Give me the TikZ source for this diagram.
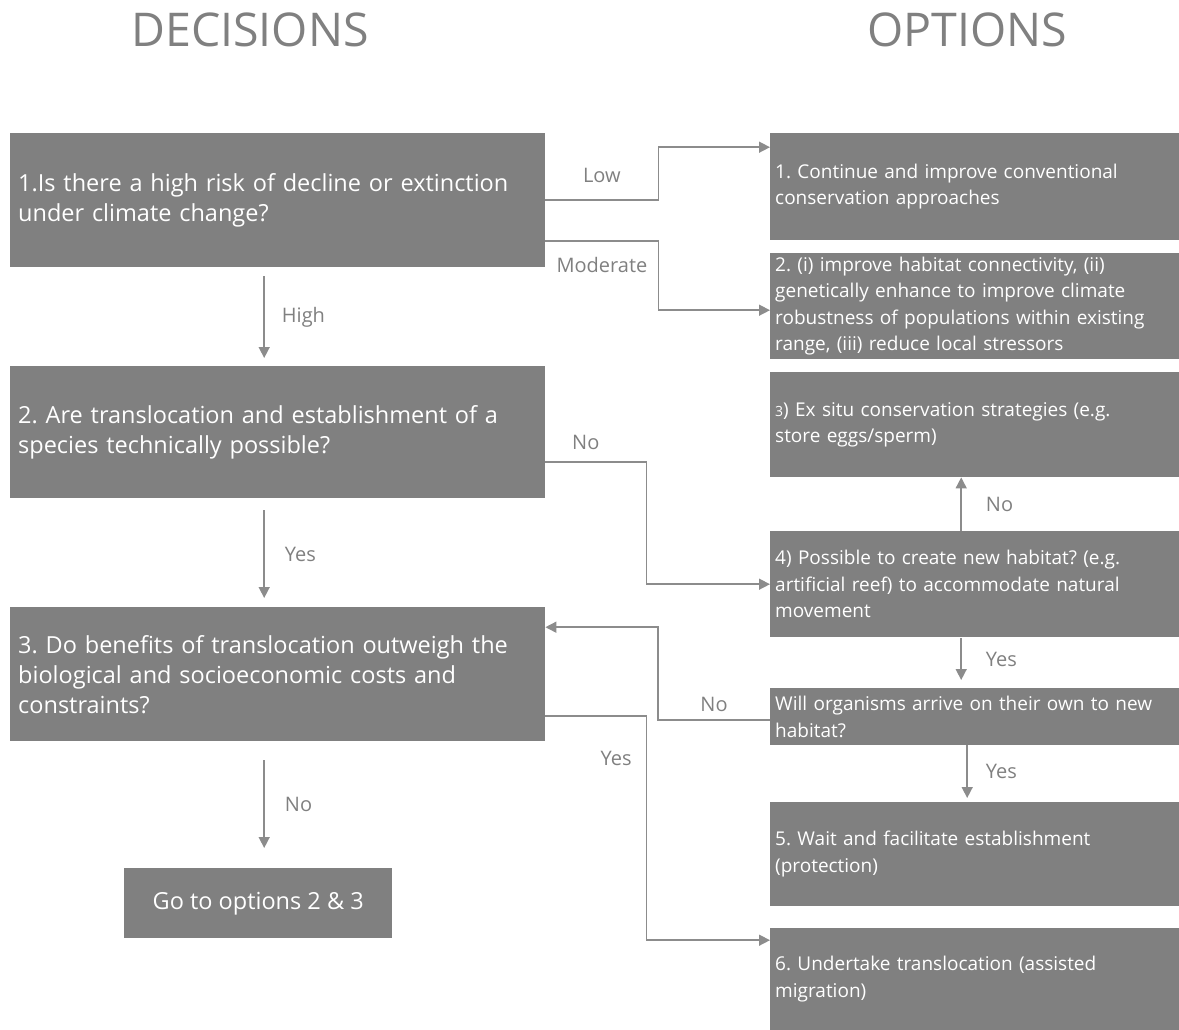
\documentclass[tikz,border=0pt]{standalone}
\usepackage{fontspec}
\setmainfont{Open Sans}
\usepackage{tikz}
\usetikzlibrary{arrows.meta}
\definecolor{boxgray}{RGB}{128,128,128}
\definecolor{linegray}{RGB}{140,140,140}
\definecolor{textgray}{RGB}{128,128,128}
\newcommand\decfont{\fontsize{23.5}{30}\selectfont}
\newcommand\optfont{\fontsize{19}{26.5}\selectfont}
\newcommand\lblfont{\fontsize{20}{22}\selectfont}
\newcommand\ttlfont{\fontsize{46.5}{52}\selectfont}
\frenchspacing
\tikzset{
DBOX/.style={fill=boxgray,draw=none,text=white,font=\decfont,anchor=north west,inner xsep=8pt,inner ysep=0pt,minimum width=535pt,text width=519pt,align=left},
OBOX/.style={fill=boxgray,draw=none,text=white,font=\optfont,anchor=north west,inner xsep=5pt,inner ysep=0pt,minimum width=409pt,text width=399pt,align=left},
GOBOX/.style={fill=boxgray,draw=none,text=white,font=\decfont,anchor=north west,inner sep=0pt,minimum width=268pt,minimum height=70pt},
TITLE/.style={text=textgray,font=\ttlfont},
LINK/.style={draw=linegray,line width=1.5pt,-{Triangle[length=11pt,width=11pt]}},
LABEL/.style={text=textgray,font=\lblfont,inner sep=0pt},
}
\begin{document}
\begin{tikzpicture} %Decision tree
[x=1pt, y=-1pt]
	\useasboundingbox (0,0) rectangle (1179,1030);
	\node[TITLE] (tdec) at (250,30) {DECISIONS};
	\node[TITLE] (topt) at (967,30) {OPTIONS};
	% decisions
	\node[DBOX,minimum height=134pt] (d1) at (10,133) {1.Is there a high risk of decline or extinction\\under climate change?};
	\node[DBOX,minimum height=132pt] (d2) at (10,366) {2. Are translocation and establishment of a\\species technically possible?};
	\node[DBOX,minimum height=134pt] (d3) at (10,607) {3. Do benefits of translocation outweigh the\\biological and socioeconomic costs and\\constraints?};
	\node[GOBOX] (go) at (124,868) {Go to options 2 \& 3};
	% options
	\node[OBOX,minimum height=107pt] (o1) at (770,133) {1. Continue and improve conventional\\conservation approaches};
	\node[OBOX,minimum height=106pt] (o2) at (770,253) {2. (i) improve habitat connectivity, (ii)\\genetically enhance to improve climate\\robustness of populations within existing\\range, (iii) reduce local stressors};
	\node[OBOX,minimum height=105pt] (o3) at (770,372) {{\fontsize{14}{26.5}\selectfont 3}) Ex situ conservation strategies (e.g.\\store eggs/sperm)};
	\node[OBOX,minimum height=106pt] (o4) at (770,531) {4) Possible to create new habitat? (e.g.\\artificial reef) to accommodate natural\\movement};
	\node[OBOX,minimum height=57pt] (will) at (770,688) {Will organisms arrive on their own to new\\habitat?};
	\node[OBOX,minimum height=104pt] (o5) at (770,802) {5. Wait and facilitate establishment\\(protection)};
	\node[OBOX,minimum height=102pt] (o6) at (770,928) {6. Undertake translocation (assisted\\migration)};
	% connectors
	\path[LINK] (d1.east) -- node[LABEL,above=17pt]{Low} ++(113,0) |- ([yshift=39.5pt]o1.west);
	\path[LINK] ([yshift=-41pt]d1.east) -- node[LABEL,below=15pt]{Moderate} ++(113,0) |- ([yshift=-4pt]o2.west);
	\path[LINK] ([xshift=-13.5pt,yshift=-9pt]d1.south) -- node[LABEL,right=17pt]{High} ([xshift=-13.5pt,yshift=8pt]d2.north);
	\path[LINK] ([yshift=-30pt]d2.east) -- node[LABEL,pos=0.4,above=12pt]{No} ++(101,0) |- (o4.west);
	\path[LINK] ([xshift=-13.5pt,yshift=-12pt]d2.south) -- node[LABEL,right=20pt]{Yes} ([xshift=-13.5pt,yshift=9pt]d3.north);
	\path[LINK] ([xshift=-13.5pt,yshift=-19pt]d3.south) -- node[LABEL,right=20pt]{No} ([xshift=6pt,yshift=20pt]go.north);
	\path[LINK] ([xshift=-13.5pt]o4.north) -- node[LABEL,right=24pt]{No} ([xshift=-13.5pt]o3.south);
	\path[LINK] ([xshift=-13.5pt,yshift=-1pt]o4.south) -- node[LABEL,right=24pt]{Yes} ([xshift=-13.5pt,yshift=8pt]will.north);
	\path[LINK] ([xshift=-7.5pt]will.south) -- node[LABEL,right=18pt]{Yes} ([xshift=-7.5pt,yshift=4pt]o5.north);
	\path[LINK] ([yshift=-3.5pt]will.west) -- node[LABEL,above=8pt]{No} ++(-112,0) |- ([yshift=47pt]d3.east);
	\path[LINK] ([yshift=-42pt]d3.east) -- node[LABEL,pos=0.7,below=34pt]{Yes} ++(101,0) |- ([yshift=39pt]o6.west);
\end{tikzpicture}
\end{document}
